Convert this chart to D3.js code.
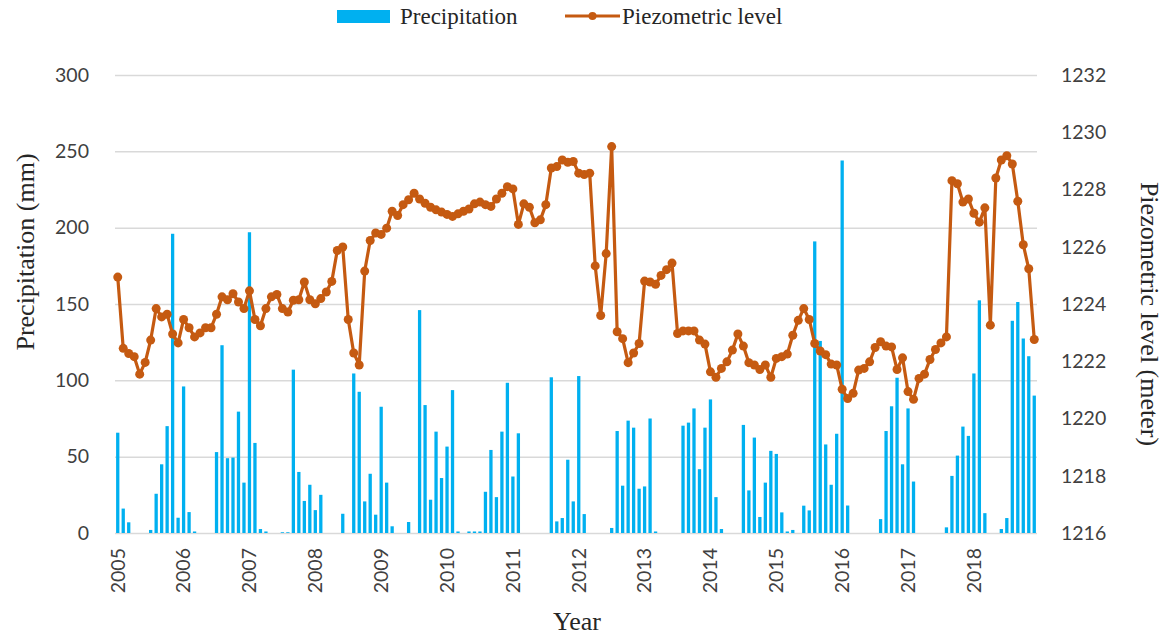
<!DOCTYPE html>
<html>
<head>
<meta charset="utf-8">
<script src="https://cdn.jsdelivr.net/npm/d3@7"></script>
<style>
  body { margin: 0; background: #fff; }
  .tick text { font-family: Lato, "Liberation Sans", sans-serif; fill: #404040; }
  .title { font-family: "Liberation Serif", serif; fill: #262626; }
</style>
</head>
<body>
<div id="chart"></div>
<script>
// monthly series, Jan 2005 .. Dec 2018
const years = d3.range(2005, 2019)
const precipTicks = [0, 50, 100, 150, 200, 250, 300]
const levelTicks = [1216, 1218, 1220, 1222, 1224, 1226, 1228, 1230, 1232]

const precipitation = [
  65.7, 16, 7, 0, 0, 0, 2, 25.7, 45, 70, 196, 10,
  96, 13.7, 1, 0, 0, 0, 53, 123, 49, 49.4, 79.5, 33,
  197, 59, 2.6, 1, 0, 0, 0.5, 0.5, 107, 40, 21, 31.6,
  15, 25, 0, 0, 0, 12.6, 0, 104.5, 92.5, 20.7, 38.8, 12,
  82.7, 33, 4.4, 0, 0, 7.2, 0, 146, 83.8, 21.8, 66.4, 36,
  56.6, 93.6, 1, 0, 1, 1, 1, 27, 54.4, 23.5, 66.4, 98.4,
  37, 65.3, 0, 0, 0, 0, 0, 102, 7.6, 9.8, 48, 20.7,
  102.8, 12.4, 0, 0, 0, 0, 3.3, 66.8, 31, 73.6, 69, 29,
  30.5, 75, 1, 0, 0, 0, 0, 70.3, 72.3, 81.6, 41.8, 69,
  87.5, 23.5, 2.6, 0, 0, 0, 70.8, 27.9, 62.5, 10.5, 33, 53.8,
  51.8, 13.5, 1, 2, 0, 17.9, 14.8, 191, 125.8, 58, 31.6, 65,
  244, 18, 0, 0, 0, 0, 0, 9.1, 66.8, 83, 101.7, 45,
  81.6, 33.7, 0, 0, 0, 0, 0, 3.7, 37.4, 50.7, 69.7, 63.6,
  104.5, 152.4, 13, 0, 0, 2.6, 9.8, 139, 151.3, 127.4, 115.8, 90
]

const piezometric = [
  1224.94, 1222.45, 1222.27, 1222.16, 1221.55, 1221.96, 1222.74, 1223.84, 1223.55, 1223.64, 1222.95, 1222.64,
  1223.46, 1223.17, 1222.85, 1222.99, 1223.17, 1223.17, 1223.64, 1224.25, 1224.15, 1224.36, 1224.07, 1223.84,
  1224.46, 1223.46, 1223.24, 1223.84, 1224.25, 1224.33, 1223.84, 1223.72, 1224.13, 1224.15, 1224.77, 1224.15,
  1224.01, 1224.19, 1224.42, 1224.79, 1225.87, 1225.99, 1223.46, 1222.29, 1221.87, 1225.15, 1226.22, 1226.48,
  1226.43, 1226.65, 1227.24, 1227.09, 1227.47, 1227.64, 1227.87, 1227.67, 1227.52, 1227.38, 1227.29, 1227.21,
  1227.13, 1227.06, 1227.15, 1227.24, 1227.32, 1227.50, 1227.56, 1227.47, 1227.41, 1227.67, 1227.87, 1228.10,
  1228.02, 1226.78, 1227.50, 1227.38, 1226.84, 1226.94, 1227.47, 1228.75, 1228.80, 1229.03, 1228.95, 1228.98,
  1228.57, 1228.52, 1228.57, 1225.33, 1223.60, 1225.76, 1229.50, 1223.03, 1222.79, 1221.95, 1222.29, 1222.62,
  1224.80, 1224.77, 1224.69, 1225.00, 1225.20, 1225.43, 1222.97, 1223.06, 1223.06, 1223.06, 1222.74, 1222.60,
  1221.63, 1221.44, 1221.75, 1221.98, 1222.39, 1222.95, 1222.53, 1221.95, 1221.87, 1221.71, 1221.87, 1221.44,
  1222.10, 1222.16, 1222.25, 1222.91, 1223.43, 1223.84, 1223.46, 1222.62, 1222.36, 1222.23, 1221.90, 1221.87,
  1221.02, 1220.70, 1220.88, 1221.69, 1221.75, 1221.98, 1222.48, 1222.68, 1222.53, 1222.50, 1221.71, 1222.12,
  1220.94, 1220.67, 1221.40, 1221.55, 1222.06, 1222.41, 1222.64, 1222.85, 1228.31, 1228.20, 1227.56, 1227.67,
  1227.17, 1226.86, 1227.36, 1223.26, 1228.40, 1229.03, 1229.18, 1228.89, 1227.59, 1226.07, 1225.23, 1222.76
]

const width = 1165, height = 636
const margin = {top: 75, right: 128, bottom: 103, left: 115}
const blue = "#00b0f0", orange = "#c55a11"

const months = d3.range(precipitation.length)

const svg = d3.select("#chart").append("svg")
    .attr("width", width)
    .attr("height", height)

let x = d3.scaleBand()
    .domain(months)
    .range([margin.left, width - margin.right])
    .paddingInner(0.4)
    .paddingOuter(0.2)
let yLeft = d3.scaleLinear()
    .domain([0, 300])
    .range([height - margin.bottom, margin.top])
let yRight = d3.scaleLinear()
    .domain([1216, 1232])
    .range([height - margin.bottom, margin.top])

// grid
svg.append("g")
    .attr("transform", `translate(${margin.left},0)`)
    .call(d3.axisLeft(yLeft).tickValues(precipTicks).tickSize(-(width - margin.right - margin.left)).tickFormat(""))
    .call(g => g.select(".domain").remove())
    .call(g => g.selectAll("line").attr("stroke", "#d9d9d9").attr("stroke-width", 1.5))

// bars
svg.append("g").selectAll("rect")
    .data(months)
    .join("rect")
    .attr("x", i => x(i))
    .attr("width", x.bandwidth())
    .attr("y", i => yLeft(precipitation[i]))
    .attr("height", i => yLeft(0) - yLeft(precipitation[i]))
    .attr("fill", blue)

// level line
const line = d3.line()
    .x(i => x(i) + x.bandwidth() / 2)
    .y(i => yRight(piezometric[i]))

svg.append("path")
    .datum(months)
    .attr("fill", "none")
    .attr("stroke", orange)
    .attr("stroke-width", 3.2)
    .attr("stroke-linejoin", "round")
    .attr("d", line)

svg.append("g").selectAll("circle")
    .data(months)
    .join("circle")
    .attr("cx", i => x(i) + x.bandwidth() / 2)
    .attr("cy", i => yRight(piezometric[i]))
    .attr("r", 4.5)
    .attr("fill", orange)

// axes
svg.append("g")
    .attr("transform", `translate(${margin.left - 23},0)`)
    .call(d3.axisLeft(yLeft).tickValues(precipTicks).tickSize(0))
    .call(g => g.select(".domain").remove())
    .call(g => g.selectAll("text").attr("font-size", 19.5))

svg.append("g")
    .attr("transform", `translate(${width - margin.right + 21},0)`)
    .call(d3.axisRight(yRight).tickValues(levelTicks).tickSize(0).tickFormat(d3.format("d")))
    .call(g => g.select(".domain").remove())
    .call(g => g.selectAll("text").attr("font-size", 19.5))

const yearTicks = years.map((y, k) => k * 12)
svg.append("g")
    .attr("transform", `translate(0,${height - margin.bottom})`)
    .call(d3.axisBottom(x).tickValues(yearTicks).tickSize(0).tickFormat(i => years[i / 12]))
    .call(g => g.select(".domain").remove())
    .call(g => g.selectAll("text")
        .attr("font-size", 19.5)
        .attr("transform", "rotate(-90)")
        .attr("text-anchor", "end")
        .attr("dy", "0.35em")
        .attr("x", -15)
        .attr("y", 0))

// titles
svg.append("text").attr("class", "title")
    .attr("transform", "translate(34,252) rotate(-90)")
    .attr("text-anchor", "middle")
    .attr("font-size", 26)
    .text("Precipitation (mm)")
svg.append("text").attr("class", "title")
    .attr("transform", "translate(1141,314) rotate(90)")
    .attr("text-anchor", "middle")
    .attr("font-size", 26)
    .text("Piezometric level (meter)")
svg.append("text").attr("class", "title")
    .attr("x", 577).attr("y", 630)
    .attr("text-anchor", "middle")
    .attr("font-size", 26)
    .text("Year")

// legend
const legend = svg.append("g")
legend.append("rect")
    .attr("x", 337).attr("y", 10).attr("width", 53).attr("height", 13)
    .attr("fill", blue)
legend.append("text").attr("class", "title")
    .attr("x", 400).attr("y", 24)
    .attr("font-size", 23)
    .text("Precipitation")
legend.append("line")
    .attr("x1", 565).attr("x2", 620).attr("y1", 16).attr("y2", 16)
    .attr("stroke", orange).attr("stroke-width", 3)
legend.append("circle")
    .attr("cx", 592.5).attr("cy", 16).attr("r", 4)
    .attr("fill", orange)
legend.append("text").attr("class", "title")
    .attr("x", 622).attr("y", 24)
    .attr("font-size", 23)
    .text("Piezometric level")
</script>
</body>
</html>
